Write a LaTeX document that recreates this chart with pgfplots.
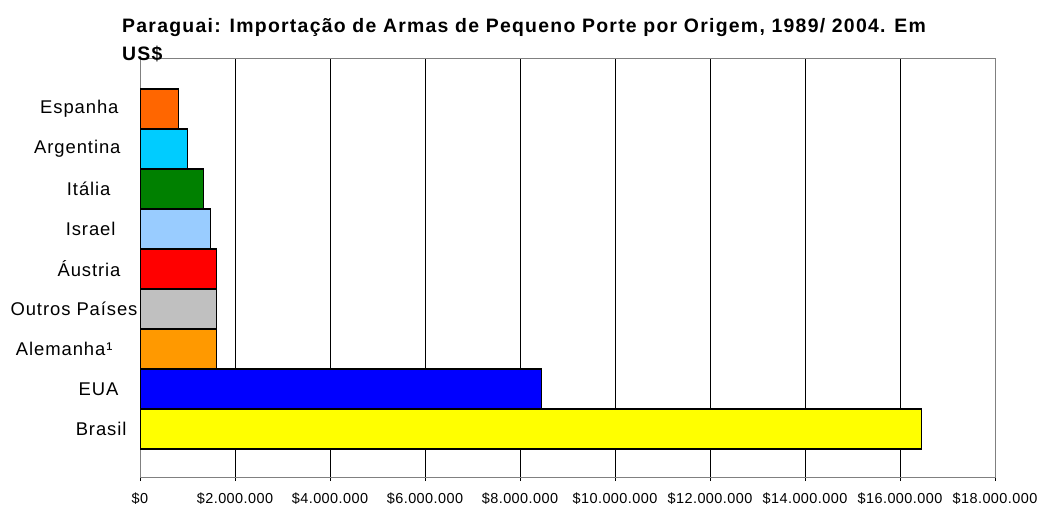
\documentclass[border=0pt]{standalone}
\usepackage{fontspec}
\setmainfont{Liberation Sans}
\newfontfamily\titlefont{Liberation Sans}[LetterSpace=6.5]
\newfontfamily\ylabfont{Liberation Sans}[LetterSpace=5]
\newfontfamily\xlabfont{Liberation Sans}[LetterSpace=3]
\usepackage{pgfplots}
\pgfplotsset{compat=1.18}
\definecolor{cEsp}{HTML}{FF6600}
\definecolor{cArg}{HTML}{00CCFF}
\definecolor{cIta}{HTML}{008000}
\definecolor{cIsr}{HTML}{99CCFF}
\definecolor{cAus}{HTML}{FF0000}
\definecolor{cOut}{HTML}{C0C0C0}
\definecolor{cAle}{HTML}{FF9900}
\definecolor{cEUA}{HTML}{0000FF}
\definecolor{cBra}{HTML}{FFFF00}
\begin{document}
\begin{tikzpicture}
\useasboundingbox (0,0) rectangle (1040bp,505bp);
\begin{axis}[
  at={(140bp,28bp)}, anchor=south west,
  scale only axis, width=855bp, height=418bp,
  xmin=0, xmax=18000000, ymin=-1.2, ymax=9.25,
  xbar, bar width=40bp, bar shift=0pt,
  scaled x ticks=false,
  xtick={0,2000000,4000000,6000000,8000000,10000000,12000000,14000000,16000000,18000000},
  xticklabels={\$0,\$2.000.000,\$4.000.000,\$6.000.000,\$8.000.000,\$10.000.000,\$12.000.000,\$14.000.000,\$16.000.000,\$18.000.000},
  ytick={0,1,2,3,4,5,6,7,8},
  yticklabels={Brasil\kern-8bp,EUA,Alemanha¹\kern6bp,Outros Países\kern-19bp,Áustria\kern-2bp,Israel\kern3bp,Itália\kern8bp,Argentina\kern-2bp,Espanha},
  xmajorgrids, grid style={black, line width=0.8bp},
  axis line style={draw=black!50, line width=1bp},
  x tick style={black, line width=0.8bp},
  tick align=outside, major tick length=4bp,
  xtick pos=bottom,
  ytick style={draw=none},
  xticklabel style={font=\xlabfont\fontsize{14.5}{16}\selectfont, yshift=-8bp},
  yticklabel style={font=\ylabfont\fontsize{18.5}{21}\selectfont, xshift=-14bp},
  /pgf/number format/assume math mode=true,
]
\addplot[fill=cBra, draw=black, line width=1.2bp] coordinates {(16460000,0)};
\addplot[fill=cEUA, draw=black, line width=1.2bp] coordinates {(8460000,1)};
\addplot[fill=cAle, draw=black, line width=1.2bp] coordinates {(1610000,2)};
\addplot[fill=cOut, draw=black, line width=1.2bp] coordinates {(1610000,3)};
\addplot[fill=cAus, draw=black, line width=1.2bp] coordinates {(1610000,4)};
\addplot[fill=cIsr, draw=black, line width=1.2bp] coordinates {(1490000,5)};
\addplot[fill=cIta, draw=black, line width=1.2bp] coordinates {(1330000,6)};
\addplot[fill=cArg, draw=black, line width=1.2bp] coordinates {(1000000,7)};
\addplot[fill=cEsp, draw=black, line width=1.2bp] coordinates {(810000,8)};
\draw[black, line width=1bp] (rel axis cs:0,0) -- (rel axis cs:1,0);
\end{axis}
\node[anchor=base west, inner sep=0pt, font=\titlefont\bfseries\fontsize{19.5}{22}\selectfont] at (122bp,472.3bp) {Paraguai: Importação de Armas de Pequeno Porte por Origem, 1989/ 2004. Em};
\node[anchor=base west, inner sep=0pt, font=\titlefont\bfseries\fontsize{19.5}{22}\selectfont] at (122bp,444.3bp) {US\$};
\end{tikzpicture}
\end{document}
